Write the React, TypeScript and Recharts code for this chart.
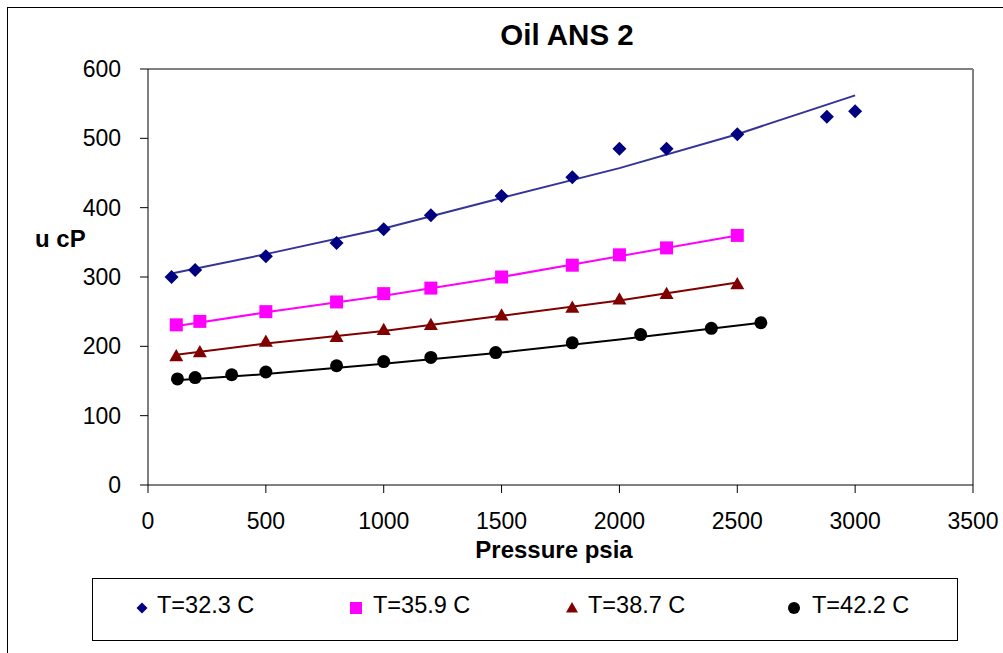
import React from 'react';
import { ScatterChart, Scatter, XAxis, YAxis, ReferenceLine } from 'recharts';

const p323 = [100, 200, 500, 800, 1000, 1200, 1500, 1800, 2000, 2200, 2500, 2880, 3000];
const v323 = [300, 310, 330, 349, 369, 389, 417, 444, 485, 485, 506, 531, 539];
const p359 = [120, 220, 500, 800, 1000, 1200, 1500, 1800, 2000, 2200, 2500];
const v359 = [231, 236, 250, 264, 276, 284, 300, 317, 332, 342, 360];
const p387 = [120, 220, 500, 800, 1000, 1200, 1500, 1800, 2000, 2200, 2500];
const v387 = [186, 192, 207, 214, 224, 231, 245, 256, 268, 276, 290];
const p422 = [125, 200, 355, 500, 800, 1000, 1200, 1475, 1800, 2090, 2390, 2600];
const v422 = [153, 155, 159, 163, 172, 178, 184, 191, 205, 217, 226, 234];

// trend lines as drawn in the picture
const tp323 = [100, 500, 1000, 1500, 2000, 2500, 3000];
const tv323 = [305, 333, 370, 414, 457, 506, 562];
const tp359 = [115, 500, 1000, 1500, 2000, 2500];
const tv359 = [229, 249, 273, 300, 330, 360];
const tp387 = [120, 500, 1000, 1500, 2000, 2500];
const tv387 = [188, 204, 222, 244, 266, 292];
const tp422 = [120, 500, 1000, 1500, 2000, 2600];
const tv422 = [151, 160, 175, 191, 210, 234];

const xTicks = [0, 500, 1000, 1500, 2000, 2500, 3000, 3500];
const yTicks = [0, 100, 200, 300, 400, 500, 600];
const labels = ['T=32.3 C', 'T=35.9 C', 'T=38.7 C', 'T=42.2 C'];

const toPts = (xs: number[], ys: number[]) => xs.map((x, i) => ({ x, y: ys[i] }));

const FONT = '"Liberation Sans", Arial, sans-serif';

const Diamond = ({ cx, cy, fill, r = 7 }: any) => (
  <polygon points={`${cx},${cy - r} ${cx + r},${cy} ${cx},${cy + r} ${cx - r},${cy}`} fill={fill} />
);
const Square = ({ cx, cy, fill, r = 6.5 }: any) => (
  <rect x={cx - r} y={cy - r} width={r * 2} height={r * 2} fill={fill} />
);
const Triangle = ({ cx, cy, fill, r = 7 }: any) => (
  <polygon points={`${cx},${cy - r} ${cx + r},${cy + r * 0.75} ${cx - r},${cy + r * 0.75}`} fill={fill} />
);
const Dot = ({ cx, cy, fill, r = 6.5 }: any) => <circle cx={cx} cy={cy} r={r} fill={fill} />;
const NoDot = () => <g />;

const series = [
  { name: labels[0], pts: toPts(p323, v323), trend: toPts(tp323, tv323), color: '#000080', lineColor: '#333399', Shape: Diamond },
  { name: labels[1], pts: toPts(p359, v359), trend: toPts(tp359, tv359), color: '#FF00FF', lineColor: '#FF00FF', Shape: Square },
  { name: labels[2], pts: toPts(p387, v387), trend: toPts(tp387, tv387), color: '#800000', lineColor: '#800000', Shape: Triangle },
  { name: labels[3], pts: toPts(p422, v422), trend: toPts(tp422, tv422), color: '#000000', lineColor: '#000000', Shape: Dot },
];

// legend item x positions (icon centre, text start)
const legendPos = [
  [134, 149],
  [348, 365],
  [564, 580],
  [786, 804],
];

export default function App() {
  return (
    <div
      style={{
        position: 'absolute',
        left: 7,
        top: 7,
        width: 996,
        height: 646,
        borderLeft: '1px solid #000',
        borderTop: '1px solid #000',
        boxSizing: 'border-box',
        background: '#fff',
        fontFamily: FONT,
      }}
    >
      <ScatterChart width={995} height={645} margin={{ top: 61, right: 30, bottom: 138, left: 80 }}>
        <XAxis
          type="number"
          dataKey="x"
          domain={[0, 3500]}
          ticks={xTicks}
          height={30}
          tickSize={8}
          tickMargin={20}
          stroke="#000"
          tick={{ fill: '#000', fontSize: 23, fontFamily: FONT }}
        />
        <YAxis
          type="number"
          dataKey="y"
          domain={[0, 600]}
          ticks={yTicks}
          width={60}
          tickSize={8}
          tickMargin={19}
          stroke="#000"
          tick={{ fill: '#000', fontSize: 23, fontFamily: FONT }}
        />
        <ReferenceLine y={600} stroke="#808080" strokeWidth={2} />
        <ReferenceLine x={3500} stroke="#808080" strokeWidth={2} />
        {series.map(s => (
          <Scatter
            key={s.name + '-trend'}
            data={s.trend}
            line={{ stroke: s.lineColor, strokeWidth: 2 }}
            shape={NoDot}
            legendType="none"
            isAnimationActive={false}
          />
        ))}
        {series.map(s => (
          <Scatter
            key={s.name}
            name={s.name}
            data={s.pts}
            fill={s.color}
            shape={(props: any) => <s.Shape cx={props.cx} cy={props.cy} fill={s.color} />}
            isAnimationActive={false}
          />
        ))}
      </ScatterChart>
      <svg
        width={995}
        height={645}
        style={{ position: 'absolute', left: 0, top: 0, pointerEvents: 'none' }}
        fontFamily={FONT}
      >
        <text x={559} y={37} textAnchor="middle" fontSize={29.5} fontWeight="bold">
          Oil ANS 2
        </text>
        <text x={27} y={239} fontSize={24} fontWeight="bold">
          u cP
        </text>
        <text x={546} y={550} textAnchor="middle" fontSize={24} fontWeight="bold">
          Pressure psia
        </text>
        <rect x={84.5} y={570.5} width={865} height={62} fill="none" stroke="#000" strokeWidth={1} />
        {series.map((s, i) => (
          <g key={s.name}>
            <s.Shape cx={legendPos[i][0]} cy={600} fill={s.color} r={i === 0 ? 5.5 : 6} />
            <text x={legendPos[i][1]} y={605} fontSize={23.5}>
              {s.name}
            </text>
          </g>
        ))}
      </svg>
    </div>
  );
}
